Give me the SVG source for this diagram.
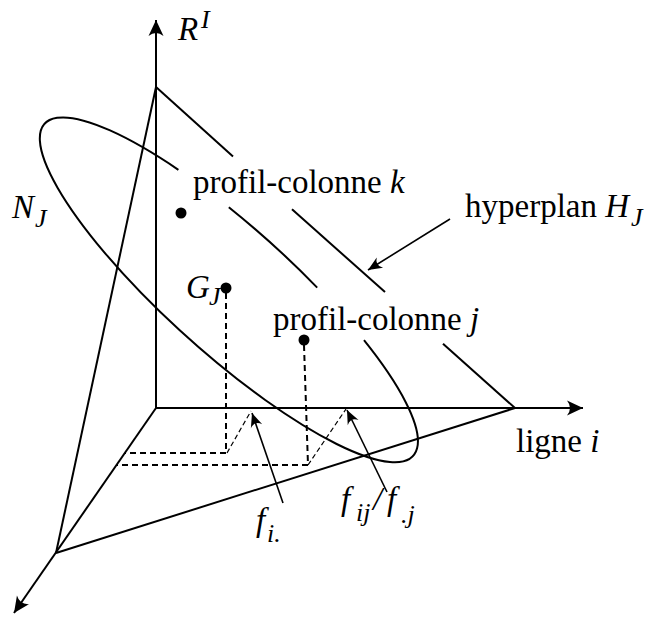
<svg xmlns="http://www.w3.org/2000/svg" width="645" height="617" viewBox="0 0 645 617">
<style>
.ln{fill:none;stroke:#000;stroke-width:2}
.th{fill:none;stroke:#000;stroke-width:1.6}
.ds{fill:none;stroke:#000;stroke-width:2;stroke-dasharray:6 4}
.dt{fill:none;stroke:#000;stroke-width:1.2;stroke-dasharray:5 3}
.t{font-family:"Liberation Serif","Times New Roman",serif;font-size:33px;fill:#000}
.i{font-style:italic}
.s{font-family:"Liberation Serif","Times New Roman",serif;font-size:26px;font-style:italic;fill:#000}
</style>
<defs>
<marker id="ah" viewBox="-17 -9 18 18" refX="0" refY="0" markerWidth="18" markerHeight="18" markerUnits="userSpaceOnUse" orient="auto">
<path d="M0,0 L-16,-7.5 Q-10,0 -16,7.5 Z" fill="#000"/>
</marker>
<marker id="ah2" viewBox="-15 -8 16 16" refX="0" refY="0" markerWidth="16" markerHeight="16" markerUnits="userSpaceOnUse" orient="auto">
<path d="M0,0 L-14,-6 Q-8,0 -14,6 Z" fill="#000"/>
</marker>
</defs>
<g id="axes">
<line class="ln" x1="156" y1="408" x2="156" y2="20" marker-end="url(#ah)"/>
<line class="ln" x1="156" y1="408" x2="583" y2="408" marker-end="url(#ah)"/>
<line class="ln" x1="156" y1="408" x2="14" y2="613" marker-end="url(#ah)"/>
</g>
<g id="hyperplan">
<line class="ln" x1="156" y1="87" x2="56" y2="553"/>
<line class="ln" x1="56" y1="553" x2="515" y2="408"/>
<line class="ln" x1="156" y1="87" x2="233" y2="156.6"/>
<line class="ln" x1="292" y1="209.2" x2="385" y2="292.1"/>
<line class="ln" x1="443" y1="343.8" x2="515" y2="408"/>
</g>
<g id="ellipse-NJ">
<path class="ln" d="M228.8,207.2 A248,63 42 0 1 317.2,287.6"/>
<path class="ln" d="M364,340.2 A248,63 42 1 1 178.4,169.8"/>
</g>
<g id="projections">
<line class="ds" x1="226" y1="293" x2="226" y2="453"/>
<line class="ds" x1="226" y1="453" x2="125" y2="453"/>
<line class="dt" x1="227" y1="453" x2="251" y2="411"/>
<line class="ds" x1="304" y1="345" x2="308" y2="465"/>
<line class="ds" x1="308" y1="465" x2="117" y2="465"/>
<line class="dt" x1="308" y1="465" x2="346" y2="409"/>
</g>
<g id="connectors">
<line class="th" x1="450" y1="219" x2="368" y2="270" marker-end="url(#ah2)"/>
<line class="th" x1="283" y1="503" x2="252" y2="413" marker-end="url(#ah2)"/>
<line class="th" x1="387" y1="492" x2="347" y2="410" marker-end="url(#ah2)"/>
</g>
<g id="point-k">
<circle cx="181" cy="213" r="5.5"/>
<text class="t" x="193" y="193">profil-colonne <tspan class="i">k</tspan></text>
</g>
<g id="point-GJ">
<circle cx="226" cy="288" r="5.5"/>
<text class="t i" x="186" y="298">G</text>
<text class="s" x="209" y="305">J</text>
</g>
<g id="point-j">
<circle cx="304" cy="340" r="5.5"/>
<text class="t" x="273" y="330">profil-colonne <tspan class="i">j</tspan></text>
</g>
<g id="label-RI">
<text class="t i" x="178" y="40">R</text>
<text class="s" x="201" y="28">I</text>
</g>
<g id="label-NJ">
<text class="t i" x="12" y="218">N</text>
<text class="s" x="35" y="227">J</text>
</g>
<g id="label-HJ">
<text class="t" x="465" y="217">hyperplan <tspan class="i">H</tspan></text>
<text class="s" x="631" y="226">J</text>
</g>
<g id="label-ligne">
<text class="t" x="516" y="452">ligne <tspan class="i">i</tspan></text>
</g>
<g id="label-fi">
<text class="t i" x="256" y="531">f</text>
<text class="s" x="267" y="542">i.</text>
</g>
<g id="label-fij">
<text class="t i" x="341" y="510">f</text>
<text class="s" x="356" y="521">ij</text>
<text class="t i" x="373" y="510">/</text>
<text class="t i" x="387" y="510">f</text>
<text class="s" x="401" y="523">.j</text>
</g>
</svg>
